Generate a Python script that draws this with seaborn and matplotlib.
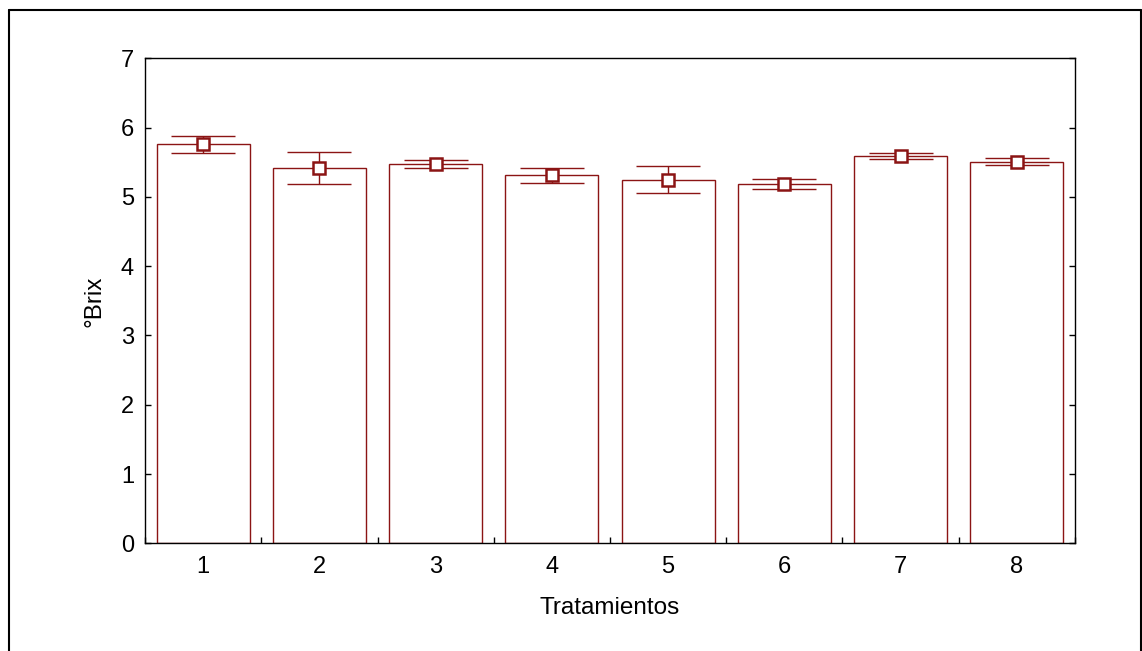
import matplotlib
matplotlib.use("Agg")
import matplotlib.pyplot as plt
import seaborn as sns
import pandas as pd
import numpy as np
from matplotlib.lines import Line2D

categories = ["1", "2", "3", "4", "5", "6", "7", "8"]
means = [5.76, 5.42, 5.47, 5.32, 5.25, 5.19, 5.59, 5.50]
upper = [5.88, 5.65, 5.53, 5.42, 5.45, 5.26, 5.64, 5.56]
lower = [5.63, 5.19, 5.42, 5.20, 5.06, 5.11, 5.54, 5.46]
yticks = [0, 1, 2, 3, 4, 5, 6, 7]

sns.set_theme(style="white")
plt.rcParams['font.family'] = ['Liberation Sans', 'DejaVu Sans']
plt.rcParams['text.color'] = 'black'
plt.rcParams['axes.labelcolor'] = 'black'
plt.rcParams['xtick.color'] = 'black'
plt.rcParams['ytick.color'] = 'black'

red = "#8b1414"
df = pd.DataFrame({"Tratamientos": categories, "Brix": means})

fig = plt.figure(figsize=(11.42, 6.51), dpi=100)
ax = fig.add_axes([0.127, 0.1654, 0.8143, 0.745])

sns.barplot(data=df, x="Tratamientos", y="Brix", ax=ax, color="white",
            edgecolor=red, linewidth=1.0, width=0.8, errorbar=None, saturation=1)

xs = np.arange(len(categories))
m = np.array(means)
yerr = np.vstack([m - np.array(lower), np.array(upper) - m])
ax.errorbar(xs, m, yerr=yerr, fmt="none", ecolor=red, elinewidth=1.0,
            capsize=23, capthick=1.0, zorder=3)
ax.plot(xs, m, linestyle="none", marker="s", markersize=8,
        markerfacecolor="white", markeredgecolor=red, markeredgewidth=1.8, zorder=4)

ax.set_xlim(-0.5, len(categories) - 0.5)
ax.set_ylim(0, 7)
ax.set_yticks(yticks)
ax.set_xticks(xs)
ax.set_xticklabels(categories)
ax.set_xticks(np.arange(len(categories) + 1) - 0.5, minor=True)
ax.tick_params(axis="x", which="major", length=0, labelsize=17, pad=9, labelcolor="black")
ax.tick_params(axis="x", which="minor", direction="in", length=4, width=1, color="black", bottom=True)
ax.tick_params(axis="y", which="major", direction="in", length=4, width=1, color="black",
               left=True, right=True, labelsize=17, pad=8, labelcolor="black")

for s in ax.spines.values():
    s.set_visible(True)
    s.set_color("black")
    s.set_linewidth(1.0)

ax.set_xlabel("Tratamientos", fontsize=17.5, labelpad=14, color="black")
ax.set_ylabel("°Brix", fontsize=17.5, labelpad=11, color="black")

bx0, by0, bx1 = 9 / 1142, 1 - 10 / 651, 1140.5 / 1142
for xd, yd in [([bx0, bx0], [0, by0]), ([bx0, bx1], [by0, by0]), ([bx1, bx1], [by0, 0])]:
    fig.add_artist(Line2D(xd, yd, transform=fig.transFigure, color="black", linewidth=1.5))

fig.savefig("out.png", dpi=100)
